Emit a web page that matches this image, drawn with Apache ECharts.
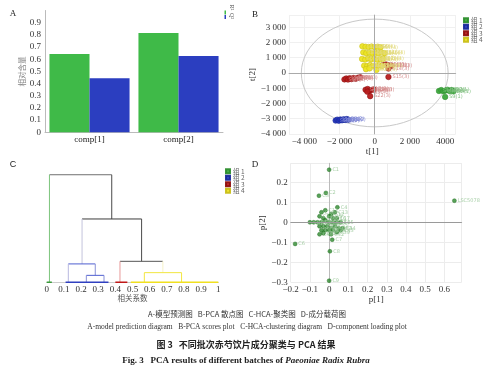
<!DOCTYPE html>
<html><head><meta charset="utf-8">
<script src="https://cdn.jsdelivr.net/npm/echarts@6/dist/echarts.min.js"></script>
<style>html,body{margin:0;padding:0;background:#fff}#c{width:499px;height:372px}</style>
</head><body><div id="c"></div>
<script>
// ---------- Panel A: model prediction ----------
const compCategories = ['comp[1]', 'comp[2]'];
const r2Values = [0.643, 0.815];
const q2Values = [0.443, 0.626];

// ---------- Panel B: PCA scores ----------
const groupNames = ['组 1', '组 2', '组 3', '组 4'];
const group1Scores = [[3650,-1180],[3780,-1120],[3900,-1200],[4020,-1150],[4130,-1100],[4250,-1180],[4370,-1120],[4470,-1200],[4000,-1570]];
const group2Scores = [[-2220,-3120],[-2130,-3060],[-2040,-3130],[-1950,-3050],[-1860,-3100],[-1770,-3040],[-1680,-3080],[-1590,-3020],[-1500,-3060]];
const group3Scores = [[-1720,-420],[-1620,-360],[-1520,-430],[-1420,-340],[-1320,-400],[-1200,-330],[-1080,-380],[-950,-310],[-820,-280],
  [480,520],[640,560],[800,500],[950,470],[780,290],[780,-260],
  [-520,-1100],[-400,-1050],[-300,-1180],[-180,-1120],[-60,-1080],[-420,-1230],[-260,-1520]];
const group4Scores = [[-700,1750],[-520,1720],[-350,1700],[-180,1730],[0,1690],[170,1720],[330,1680],
  [-650,1350],[-480,1300],[-300,1330],[-130,1280],[40,1320],[210,1290],[380,1340],[560,1300],
  [-720,920],[-540,880],[-360,950],[-200,900],[-20,930],[150,870],[320,910],[480,940],
  [-600,480],[-430,450],[-260,520],[-90,470],[80,430],[250,500],[410,460],
  [-500,250],[-300,300],[100,200]];
const hotellingAxes = [4170, 3530];
const scoreXTickValues = [-4000, -2000, 0, 2000, 4000];
const scoreXTickLabels = ['−4 000', '−2 000', '0', '2 000', '4000'];

// ---------- Panel C: HCA dendrogram ----------
// [x of left child, x of right child, merge height, left child height, right child height]
const dendroMerges = [
  [0.016, 0.379, 1.000, 0.005, 0.590],
  [0.206, 0.553, 0.590, 0.174, 0.198],
  [0.126, 0.283, 0.174, 0.000, 0.068],
  [0.231, 0.334, 0.068, 0.000, 0.000],
  [0.427, 0.677, 0.198, 0.000, 0.093],
  [0.569, 0.786, 0.093, 0.005, 0.005]
];
// leaf clusters along the baseline: [from, to]
const leafBands = [[0.0, 0.03], [0.11, 0.36], [0.40, 0.47], [0.49, 1.0]];

// ---------- Panel D: loadings ----------
const loadingPoints = [[0.0,0.263],[-0.017,0.147],[-0.053,0.133],[0.043,0.075],[0.652,0.108],[-0.177,-0.108],[0.016,-0.087],[0.004,-0.145],[0.0,-0.292],
  [-0.04,0.05],[-0.02,0.06],[0.01,0.04],[0.03,0.05],[-0.05,0.03],[0.0,0.03],[0.02,0.02],[0.04,0.02],[-0.03,0.02],
  [-0.06,0.0],[-0.04,0.0],[-0.02,0.01],[0.0,0.0],[0.02,0.0],[0.04,0.0],[0.06,0.0],[-0.08,0.0],[-0.1,0.0],
  [-0.05,-0.02],[-0.03,-0.02],[-0.01,-0.02],[0.01,-0.03],[0.03,-0.02],[0.05,-0.03],[0.07,-0.03],
  [-0.04,-0.04],[-0.02,-0.04],[0.0,-0.04],[0.02,-0.04],[0.04,-0.05],[-0.05,-0.06],[-0.03,-0.055],[0.01,-0.06],[0.06,-0.04]];
const loadingLabels = ['C1','C2','C3','C4','LSC5078','C6','C7','C8','C9'];

// ---------- captions ----------
const captionCn = 'A-模型预测图   B-PCA 散点图   C-HCA-聚类图   D-成分载荷图';
const captionEn = 'A-model prediction diagram   B-PCA scores plot   C-HCA-clustering diagram   D-component loading plot';
const figTitleCn = '图 3   不同批次赤芍饮片成分聚类与 PCA 结果';
const figTitleEn = 'Fig. 3   PCA results of different batches of ';
const figTitleSpecies = 'Paeoniae Radix Rubra';

const SERIF = 'Liberation Serif';
const CJK = 'Noto Sans CJK SC';
const groupColors = ['#3da83d', '#2536bd', '#b81d1d', '#ece424'];
const groupBorders = ['#2f8f2f', '#1a2a9a', '#8f1010', '#c9bf1a'];
const groupLabelColors = ['#7fbf7f', '#7f88d6', '#d48a8a', '#e2d97a'];

const chart = echarts.init(document.getElementById('c'), null, {renderer: 'canvas'});

const axisLabelStyle = {fontFamily: SERIF, fontSize: 9, color: '#333'};
const lightAxis = {lineStyle: {color: '#bbb'}};

function scatterB(i, data) {
  const s = {
    name: groupNames[i], type: 'scatter', xAxisIndex: 1, yAxisIndex: 1,
    data: data, symbolSize: 5.5, z: 3,
    itemStyle: {color: groupColors[i], borderColor: groupBorders[i], borderWidth: 0.6, opacity: 0.95},
    label: {show: true, position: 'right', distance: 1, fontSize: 5, fontFamily: 'DejaVu Sans',
      color: groupLabelColors[i], formatter: p => 'S' + (p.dataIndex + 1) + '(' + (i + 1) + ')'}
  };
  if (i === 0) {
    s.markLine = {silent: true, symbol: 'none', label: {show: false}, animation: false,
      lineStyle: {color: '#aaa', type: 'solid', width: 1}, data: [{xAxis: 0}, {yAxis: 0}]};
  }
  return s;
}

// dendrogram series
const mergeColors = [
  ['#4a4a4a', '#7cc47c', '#4a4a4a'],
  ['#3c3c3c', '#c4c4dc', '#4a4a4a'],
  ['#4f5fd0', '#b8b8e0', '#8890d8'],
  ['#4f5fd0', '#8890d8', '#8890d8'],
  ['#555555', '#e89a9a', '#f6f2c8'],
  ['#f2e640', '#f2e640', '#f2e640']
];
const bandColors = ['#3a9a3a', '#3040c0', '#c01818', '#f0e020'];
const dendroSeries = [];
function seg(a, b, color, w) {
  dendroSeries.push({type: 'line', xAxisIndex: 2, yAxisIndex: 2, data: [a, b], symbol: 'none',
    lineStyle: {color: color, width: w || 1}, silent: true, z: 2});
}
dendroMerges.forEach((m, k) => {
  const [xl, xr, h, hl, hr] = m;
  seg([xl, h], [xr, h], mergeColors[k][0]);
  seg([xl, hl], [xl, h], mergeColors[k][1]);
  seg([xr, hr], [xr, h], mergeColors[k][2]);
});
leafBands.forEach((b, k) => seg([b[0], 0.004], [b[1], 0.004], bandColors[k], 1.6));

const legendText = {fontSize: 6.5, lineHeight: 6, color: '#666', fontFamily: CJK, padding: [0, 0, 0, -2]};

const option = {
  animation: false,
  backgroundColor: '#fff',
  textStyle: {fontFamily: SERIF},
  grid: [
    {left: 45, top: 10.5, width: 178, height: 121.8},
    {left: 289, top: 15, width: 166.7, height: 119},
    {left: 46.7, top: 174.7, width: 171.6, height: 108},
    {left: 290.7, top: 163.3, width: 171, height: 119}
  ],
  legend: [
    {data: groupNames, orient: 'vertical', left: 458, top: 12, itemWidth: 4, itemHeight: 4, itemGap: 0,
      icon: 'rect', selectedMode: false, textStyle: legendText},
    {data: groupNames, orient: 'vertical', left: 220, top: 163, itemWidth: 4, itemHeight: 4, itemGap: 0,
      icon: 'rect', selectedMode: false, textStyle: legendText}
  ],
  xAxis: [
    {type: 'category', gridIndex: 0, data: compCategories, axisLine: lightAxis, axisTick: {show: false},
      axisLabel: {fontFamily: SERIF, fontSize: 9, color: '#222', margin: 3}},
    {type: 'value', gridIndex: 1, min: -4870, max: 4600, name: 't[1]', nameLocation: 'middle', nameGap: 8,
      nameTextStyle: {fontFamily: SERIF, fontSize: 9, color: '#333'},
      axisLine: lightAxis, axisTick: {show: false}, splitLine: {lineStyle: {color: '#f0f0f0'}},
      axisLabel: Object.assign({margin: 3, showMinLabel: false, showMaxLabel: false,
        formatter: v => { const i = scoreXTickValues.indexOf(v); return i >= 0 ? scoreXTickLabels[i] : ''; }}, axisLabelStyle)},
    {type: 'value', gridIndex: 2, min: 0, max: 1, interval: 0.1, name: '相关系数', nameLocation: 'middle', nameGap: 10,
      nameTextStyle: {fontFamily: CJK, fontSize: 7.5, color: '#555'},
      axisLine: {lineStyle: {color: '#ccc'}}, axisTick: {show: false}, splitLine: {show: false},
      axisLabel: Object.assign({margin: 2}, axisLabelStyle)},
    {type: 'value', gridIndex: 3, min: -0.2, max: 0.69, interval: 0.1, name: 'p[1]', nameLocation: 'middle', nameGap: 10,
      nameTextStyle: {fontFamily: SERIF, fontSize: 9, color: '#333'},
      axisLine: lightAxis, axisTick: {show: false}, splitLine: {lineStyle: {color: '#ececec'}},
      axisLabel: Object.assign({margin: 3, showMaxLabel: false, formatter: v => String(Math.round(v * 10) / 10).replace('-', '−')}, axisLabelStyle)}
  ],
  yAxis: [
    {type: 'value', gridIndex: 0, min: 0, max: 1, interval: 0.1, name: '相对含量', nameLocation: 'middle', nameGap: 19,
      nameTextStyle: {fontFamily: CJK, fontSize: 7.5, color: '#888'},
      axisLine: {show: true, lineStyle: {color: '#bbb'}}, axisTick: {show: false}, splitLine: {show: false},
      axisLabel: Object.assign({margin: 4, showMaxLabel: false}, axisLabelStyle)},
    {type: 'value', gridIndex: 1, min: -4000, max: 3800, interval: 1000, name: 't[2]', nameLocation: 'middle', nameGap: 24,
      nameTextStyle: {fontFamily: SERIF, fontSize: 9, color: '#333'},
      axisLine: {show: true, lineStyle: {color: '#bbb'}}, axisTick: {show: false}, splitLine: {lineStyle: {color: '#f0f0f0'}},
      axisLabel: Object.assign({margin: 3, showMaxLabel: false,
        formatter: v => (v < 0 ? '−' : '') + (Math.abs(v) >= 1000 ? Math.floor(Math.abs(v) / 1000) + ' 000' : String(Math.abs(v)))}, axisLabelStyle)},
    {type: 'value', gridIndex: 2, min: 0, max: 1, show: false},
    {type: 'value', gridIndex: 3, min: -0.3, max: 0.295, interval: 0.1, name: 'p[2]', nameLocation: 'middle', nameGap: 22,
      nameTextStyle: {fontFamily: SERIF, fontSize: 9, color: '#333'},
      axisLine: {show: true, lineStyle: {color: '#bbb'}}, axisTick: {show: false}, splitLine: {lineStyle: {color: '#ececec'}},
      axisLabel: Object.assign({margin: 3, showMaxLabel: false, formatter: v => String(Math.round(v * 10) / 10).replace('-', '−')}, axisLabelStyle)}
  ],
  series: [
    {name: 'R²', type: 'bar', xAxisIndex: 0, yAxisIndex: 0, data: r2Values, barGap: '0%', barCategoryGap: '10%',
      itemStyle: {color: '#3fba48'}},
    {name: 'Q²', type: 'bar', xAxisIndex: 0, yAxisIndex: 0, data: q2Values, barGap: '0%', barCategoryGap: '10%',
      itemStyle: {color: '#2b3ec0'}},
    {type: 'custom', xAxisIndex: 1, yAxisIndex: 1, data: [[0, 0]], silent: true, z: 1,
      renderItem: (params, api) => {
        const c = api.coord([0, 0]);
        const ex = api.coord([hotellingAxes[0], 0]);
        const ey = api.coord([0, hotellingAxes[1]]);
        return {type: 'ellipse', shape: {cx: c[0], cy: c[1], rx: ex[0] - c[0], ry: c[1] - ey[1]},
          style: {fill: 'none', stroke: '#c8c8c8', lineWidth: 1}};
      }},
    scatterB(0, group1Scores), scatterB(1, group2Scores), scatterB(2, group3Scores), scatterB(3, group4Scores),
    ...dendroSeries,
    {type: 'scatter', xAxisIndex: 3, yAxisIndex: 3, data: loadingPoints, symbolSize: 4, z: 3,
      itemStyle: {color: '#2e8a2e', borderColor: '#1f6b1f', borderWidth: 0.5},
      label: {show: true, position: 'right', distance: 1, fontSize: 5, fontFamily: 'DejaVu Sans', color: '#93c493',
        formatter: p => p.dataIndex < loadingLabels.length ? loadingLabels[p.dataIndex] : 'C' + (p.dataIndex + 1)},
      markLine: {silent: true, symbol: 'none', label: {show: false}, animation: false,
        lineStyle: {color: '#9a9a9a', type: 'solid', width: 1}, data: [{yAxis: 0}]}}
  ],
  graphic: [
    {type: 'text', x: 13, y: 14, style: {text: 'A', font: '9px "Liberation Serif"', fill: '#222', textAlign: 'center', textVerticalAlign: 'middle'}},
    {type: 'text', x: 255, y: 15, style: {text: 'B', font: '9px "Liberation Serif"', fill: '#222', textAlign: 'center', textVerticalAlign: 'middle'}},
    {type: 'text', x: 13, y: 165, style: {text: 'C', font: '9px "Liberation Sans"', fill: '#222', textAlign: 'center', textVerticalAlign: 'middle'}},
    {type: 'text', x: 255, y: 165, style: {text: 'D', font: '9px "Liberation Serif"', fill: '#222', textAlign: 'center', textVerticalAlign: 'middle'}},
    // legend of panel A
    {type: 'rect', shape: {x: 224.5, y: 10.5, width: 1.5, height: 4}, style: {fill: '#3fba48'}},
    {type: 'rect', shape: {x: 224.5, y: 15, width: 1.5, height: 4}, style: {fill: '#2b3ec0'}},
    {type: 'text', x: 231.5, y: 7.5, rotation: -Math.PI / 2, style: {text: 'R²', font: '6px "Liberation Serif"', fill: '#444', textAlign: 'center', textVerticalAlign: 'middle'}},
    {type: 'text', x: 231.5, y: 16, rotation: -Math.PI / 2, style: {text: 'Q²', font: '6px "Liberation Serif"', fill: '#444', textAlign: 'center', textVerticalAlign: 'middle'}},
    // captions
    {type: 'text', x: 247, y: 314.5, style: {text: captionCn, font: '7.5px "Noto Sans CJK SC"', fill: '#333', textAlign: 'center', textVerticalAlign: 'middle'}},
    {type: 'text', x: 247, y: 327, style: {text: captionEn, font: '7.5px "Liberation Serif"', fill: '#333', textAlign: 'center', textVerticalAlign: 'middle'}},
    {type: 'text', x: 246, y: 344.5, style: {text: figTitleCn, font: 'bold 9px "Noto Sans CJK SC"', fill: '#222', textAlign: 'center', textVerticalAlign: 'middle'}},
    {type: 'text', x: 246, y: 361, style: {text: '{b|' + figTitleEn + '}{i|' + figTitleSpecies + '}', textAlign: 'center', textVerticalAlign: 'middle',
      rich: {b: {fontFamily: SERIF, fontWeight: 'bold', fontSize: 9, fill: '#222'}, i: {fontFamily: SERIF, fontWeight: 'bold', fontStyle: 'italic', fontSize: 9, fill: '#222'}}}}
  ]
};
chart.setOption(option);
</script>
</body></html>
